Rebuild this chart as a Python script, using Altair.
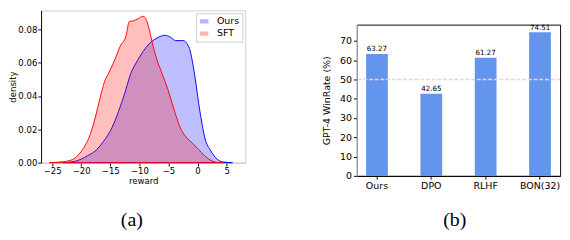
import altair as alt
import pandas as pd

# ---- panel (a): reward density curves ----
sft_x = [-25.5, -23.1, -21.5, -20.5, -19.4, -18.4, -17.6, -16.8, -16.0, -15.2, -14.1, -13.3,
         -12.3, -11.75, -11.0, -10.2, -9.4, -8.9, -8.3, -7.8, -7.0, -6.2, -5.1, -4.1, -3.0,
         -2.0, -0.9, 0.16, 1.2, 2.3, 3.3, 4.4]
sft_y = [0, 0.0006, 0.0019, 0.0047, 0.0099, 0.0175, 0.027, 0.0383, 0.0487, 0.0544, 0.063, 0.070,
         0.0762, 0.0848, 0.0853, 0.0866, 0.088, 0.0866, 0.080, 0.0724, 0.062, 0.0544, 0.044, 0.0326,
         0.0212, 0.0155, 0.0118, 0.008, 0.0042, 0.0013, 0.0002, 0]
ours_x = [-23.1, -21.0, -18.9, -17.3, -16.2, -14.7, -13.6, -12.5, -11.5, -10.4, -9.4, -8.3, -7.3,
          -6.2, -5.6, -4.6, -3.8, -2.5, -1.4, -0.9, -0.37, 0.16, 0.68, 1.2, 2.3, 3.3, 4.4, 6.0]
ours_y = [0, 0.0009, 0.0042, 0.008, 0.0127, 0.0212, 0.0307, 0.042, 0.0535, 0.061, 0.0667, 0.0715,
          0.0743, 0.0762, 0.0766, 0.0753, 0.0734, 0.0734, 0.0687, 0.061, 0.0497, 0.0364, 0.025,
          0.0155, 0.007, 0.0023, 0.0004, 0]
series_names = ["Ours", "SFT"]
reward_ticks = [-25, -20, -15, -10, -5, 0, 5]
density_ticks = [0.0, 0.02, 0.04, 0.06, 0.08]

# ---- panel (b): GPT-4 win rates ----
methods = ["Ours", "DPO", "RLHF", "BON(32)"]
winrates = [63.27, 42.65, 61.27, 74.51]
winrate_labels = ["63.27", "42.65", "61.27", "74.51"]
winrate_ticks = [0, 10, 20, 30, 40, 50, 60, 70]
reference_line = [50]

ours_df = pd.DataFrame({"reward": ours_x, "density": ours_y, "model": series_names[0]})
sft_df = pd.DataFrame({"reward": sft_x, "density": sft_y, "model": series_names[1]})
bars = pd.DataFrame({"method": methods, "winrate": winrates, "label": winrate_labels})
ref = pd.DataFrame({"winrate": reference_line})

FONT = "DejaVu Sans"
SERIF = "Liberation Serif"

xenc = alt.X("reward:Q", scale=alt.Scale(domain=[-26.9, 8.2], nice=False, zero=False),
             axis=alt.Axis(values=reward_ticks, title="reward", grid=False, domainColor="#cccccc",
                           tickColor="black", labelFontSize=9, titleFontSize=9,
                           titleFontWeight="normal", labelPadding=1, titlePadding=2,
                           tickSize=3.5, labelColor="black", titleColor="black"))
yenc = alt.Y("density:Q", stack=None, scale=alt.Scale(domain=[0, 0.0915], nice=False),
             axis=alt.Axis(values=density_ticks, format=".2f", title="density", grid=False,
                           domainColor="black", tickColor="black", labelFontSize=9,
                           titleFontSize=9, titleFontWeight="normal", labelPadding=1,
                           titlePadding=0, tickSize=3.5, labelColor="black",
                           titleColor="black", labelOverlap=False))
cenc = alt.Color("model:N", scale=alt.Scale(domain=series_names, range=["blue", "red"]),
                 legend=alt.Legend(title=None, orient="top-right", offset=3,
                                   fillColor="white", strokeColor="#cccccc", padding=3,
                                   labelFontSize=10, labelColor="black",
                                   symbolType="M-1,-0.5H1V0.5H-1Z", symbolSize=80,
                                   symbolOpacity=0.3, rowPadding=2, labelOffset=8))
senc = alt.Stroke("model:N", scale=alt.Scale(domain=series_names, range=["blue", "red"]),
                  legend=None)


def area_layer(df):
    return alt.Chart(df).mark_area(
        interpolate="monotone", fillOpacity=0.25, strokeWidth=1, strokeOpacity=1
    ).encode(x=xenc, y=yenc, color=cenc, stroke=senc)


left = (
    alt.layer(area_layer(ours_df), area_layer(sft_df))
    .properties(width=216, height=161, view=alt.ViewBackground(stroke="#cccccc"),
                title=alt.TitleParams("(a)", orient="bottom", font=SERIF, fontSize=21,
                                      fontWeight="normal", color="black", dx=-12, offset=25))
)

yaxis_b = alt.Axis(values=winrate_ticks, title="GPT-4 WinRate (%)", grid=False,
                   labelFontSize=10, titleFontSize=10, titleFontWeight="normal",
                   labelColor="black", titleColor="black", domainColor="#bbbbbb",
                   tickColor="black", tickSize=3.5, labelPadding=2, titlePadding=9,
                   labelOverlap=False)
yscale_b = alt.Scale(domain=[0, 78.5], nice=False)

bar_base = alt.Chart(bars).encode(
    x=alt.X("method:N", sort=methods,
            scale=alt.Scale(paddingInner=0.6, paddingOuter=0.17, align=0.5),
            axis=alt.Axis(title=None, labelAngle=0, labelFontSize=10, labelColor="black",
                          domainColor="black", tickColor="black", tickSize=3.5, labelPadding=2,
                          grid=False)),
    y=alt.Y("winrate:Q", scale=yscale_b, axis=yaxis_b),
)
bar_marks = bar_base.mark_bar(color="#6495ED")
bar_text = bar_base.mark_text(baseline="bottom", dy=-1, fontSize=7.5, font=FONT, color="black").encode(
    text="label:N")
ref_rule = alt.Chart(ref).mark_rule(color="#ffcccc", strokeDash=[4, 2], strokeWidth=1.5).encode(
    y=alt.Y("winrate:Q", scale=yscale_b, axis=yaxis_b))

right = (
    alt.layer(bar_marks, ref_rule, bar_text)
    .properties(width=215, height=160, view=alt.ViewBackground(stroke="black"),
                title=alt.TitleParams("(b)", orient="bottom", font=SERIF, fontSize=21,
                                      fontWeight="normal", color="black", dx=-4, offset=21))
)

spacer = (
    alt.Chart(pd.DataFrame({"a": [0]}))
    .mark_rule(opacity=0)
    .encode(x=alt.value(0))
    .properties(width=215, height=13, view=alt.ViewBackground(stroke=None))
)

right_col = alt.vconcat(spacer, right, spacing=0).resolve_scale(x="independent", y="independent")

chart = (
    alt.hconcat(left, right_col, spacing=79)
    .resolve_scale(color="independent", x="independent", y="independent")
    .properties(padding={"left": 0, "top": -5, "right": 0, "bottom": 0})
    .configure(font=FONT)
    .configure_axis(labelFont=FONT, titleFont=FONT)
)

chart.save("out.html", embed_options={"renderer": "svg", "actions": False})
